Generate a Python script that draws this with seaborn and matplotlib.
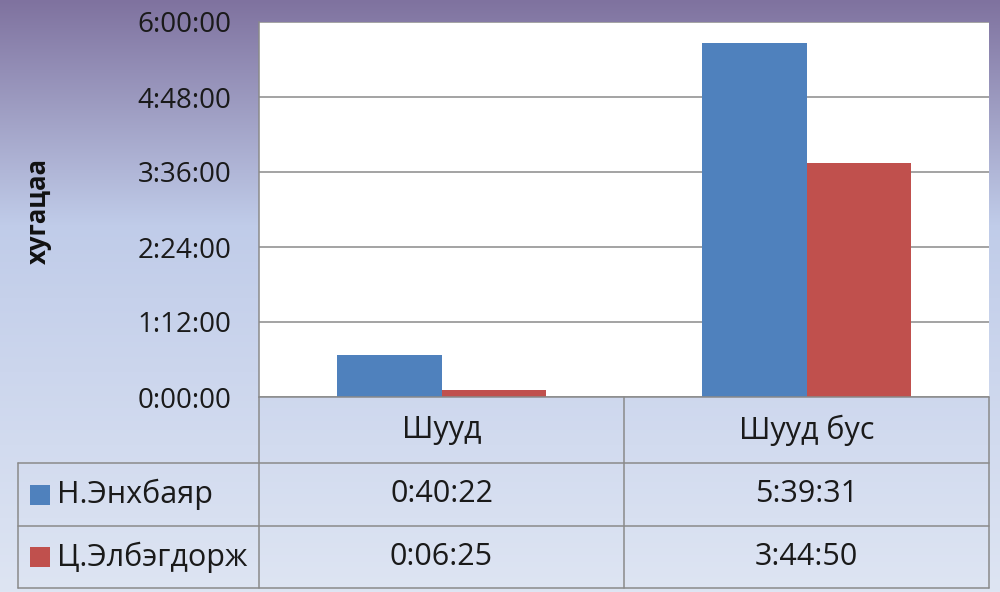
import numpy as np
import pandas as pd
import matplotlib
matplotlib.use('Agg')
import matplotlib.pyplot as plt
import seaborn as sns
from matplotlib.ticker import FuncFormatter, FixedLocator
from matplotlib.lines import Line2D
from matplotlib.patches import Rectangle

# chart data
categories = ['Шууд', 'Шууд бус']
series_names = ['Н.Энхбаяр', 'Ц.Элбэгдорж']
enkhbayar_times = ['0:40:22', '5:39:31']
elbegdorj_times = ['0:06:25', '3:44:50']
y_label = 'хугацаа'
y_tick_hours = [0, 1.2, 2.4, 3.6, 4.8, 6.0]
bar_colors = ['#4F81BD', '#C0504D']


def to_hours(s):
    h, m, sec = (int(p) for p in s.split(':'))
    return h + m / 60 + sec / 3600


def fmt_hms(v, pos=None):
    total = int(round(v * 3600))
    return f'{total // 3600}:{total % 3600 // 60:02d}:{total % 60:02d}'


rows = []
for name, times in zip(series_names, [enkhbayar_times, elbegdorj_times]):
    for cat, t in zip(categories, times):
        rows.append({'category': cat, 'series': name, 'hours': to_hours(t), 'label': t})
df = pd.DataFrame(rows)

sns.set_style('white')
plt.rcParams['font.family'] = ['Open Sans', 'DejaVu Sans']
TICK_FS = 20
TABLE_FS = 22
GRID = '#8a8a8a'
TXT = '#1a1a1a'

W, H = 1000, 592
fig = plt.figure(figsize=(W / 100, H / 100), dpi=100)

# background gradient (purple at top fading to pale blue)
bg = fig.add_axes([0, 0, 1, 1], zorder=-10)
stops_y = [0.0, 0.38, 1.0]
stops_c = np.array([[127, 114, 159], [192, 204, 233], [222, 229, 243]]) / 255
yy = np.linspace(0, 1, H)
grad = np.stack([np.interp(yy, stops_y, stops_c[:, k]) for k in range(3)], axis=-1)
bg.imshow(grad[:, None, :].repeat(4, axis=1), aspect='auto', extent=[0, 1, 0, 1])
bg.axis('off')


def px(x, y):
    return x / W, 1 - y / H


# plot area in pixels
left, right, top, bottom = 259, 989, 22, 397
ax = fig.add_axes([left / W, 1 - bottom / H, (right - left) / W, (bottom - top) / H])
ax.set_facecolor('white')

sns.barplot(data=df, x='category', y='hours', hue='series', hue_order=series_names,
            order=categories, palette=bar_colors, saturation=1, width=0.57,
            linewidth=0, legend=False, ax=ax, zorder=3)

ax.set_ylim(0, 6)
ax.set_xlim(-0.5, 1.5)
ax.yaxis.set_major_locator(FixedLocator(y_tick_hours))
ax.yaxis.set_major_formatter(FuncFormatter(fmt_hms))
ax.yaxis.grid(True, color=GRID, linewidth=1.1, zorder=0)
ax.set_axisbelow(True)
ax.tick_params(axis='y', length=0, pad=20, labelsize=TICK_FS, labelcolor=TXT)
ax.set_xticks([])
ax.set_xlabel('')
ax.set_ylabel('')
for side in ['top', 'right', 'bottom']:
    ax.spines[side].set_visible(False)
ax.spines['left'].set_color(GRID)
ax.spines['left'].set_linewidth(1.1)

fig.text(*px(38, 211), y_label, rotation=90, ha='center', va='center',
         fontsize=18.5, fontweight='bold', color='#111111')

# data table under the plot
tab_left = 18
row_edges = [397, 463, 526, 588]
col_x = [tab_left, left] + [ax.transData.transform((c + 0.5, 0))[0] for c in range(len(categories))]


def hline(x0, x1, y):
    fig.add_artist(Line2D([x0 / W, x1 / W], [1 - y / H, 1 - y / H], color=GRID, linewidth=1.1))


def vline(x, y0, y1):
    fig.add_artist(Line2D([x / W, x / W], [1 - y0 / H, 1 - y1 / H], color=GRID, linewidth=1.1))


hline(left, right, row_edges[0])
for y in row_edges[1:]:
    hline(tab_left, right, y)
vline(tab_left, row_edges[1], row_edges[-1])
for x in col_x[1:]:
    vline(x, row_edges[0], row_edges[-1])

xform = ax.get_xaxis_transform()


def ax_y(ypx):
    return (bottom - ypx) / (bottom - top)


header_y = (row_edges[0] + row_edges[1]) / 2
for i, cat in enumerate(categories):
    ax.text(i, ax_y(header_y), cat, transform=xform, ha='center', va='center',
            fontsize=TABLE_FS, color=TXT, clip_on=False)

for r, (name, times, color) in enumerate(zip(series_names, [enkhbayar_times, elbegdorj_times], bar_colors)):
    yc = (row_edges[r + 1] + row_edges[r + 2]) / 2
    fig.add_artist(Rectangle(px(30, yc + 10), 20 / W, 20 / H, facecolor=color, edgecolor='none'))
    fig.text(*px(57, yc), name, ha='left', va='center', fontsize=TABLE_FS, color=TXT)
    for i, t in enumerate(times):
        ax.text(i, ax_y(yc), t, transform=xform, ha='center', va='center',
                fontsize=TABLE_FS, color=TXT, clip_on=False)

fig.savefig('out.png', dpi=100)
